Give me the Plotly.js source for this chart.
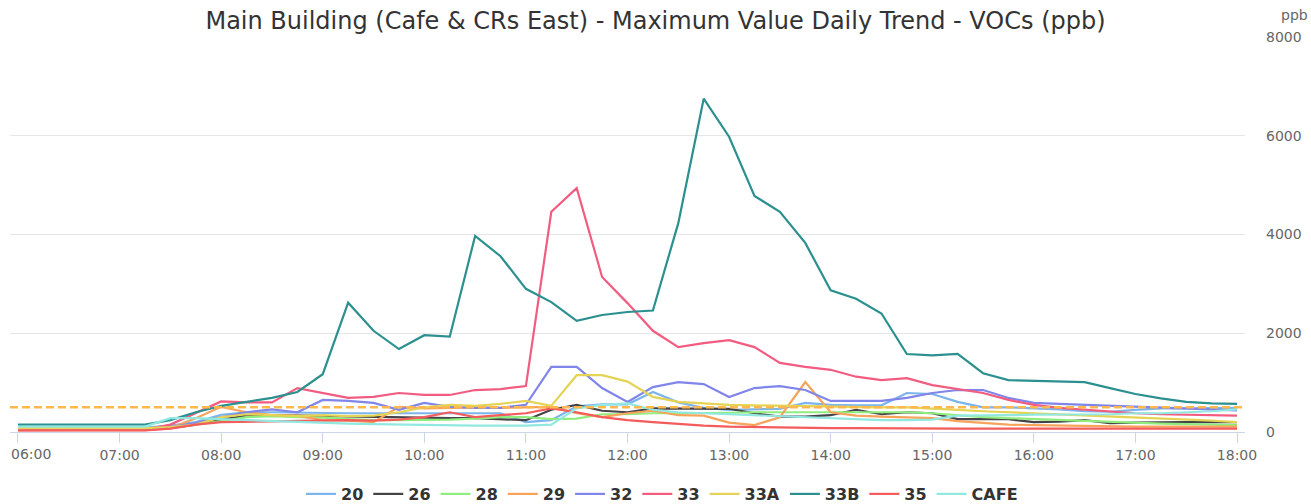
<!DOCTYPE html>
<html>
<head>
<meta charset="utf-8">
<script src="https://cdn.plot.ly/plotly-3.0.1.min.js"></script>
<style>html,body{margin:0;padding:0;background:#fff}#chart{width:1311px;height:504px}</style>
</head>
<body>
<div id="chart"></div>
<script>
const times = ["06:00","06:15","06:30","06:45","07:00","07:15","07:30","07:45","08:00","08:15","08:30","08:45","09:00","09:15","09:30","09:45","10:00","10:15","10:30","10:45","11:00","11:15","11:30","11:45","12:00","12:15","12:30","12:45","13:00","13:15","13:30","13:45","14:00","14:15","14:30","14:45","15:00","15:15","15:30","15:45","16:00","16:15","16:30","16:45","17:00","17:15","17:30","17:45","18:00"];
const hourLabels = ["06:00","07:00","08:00","09:00","10:00","11:00","12:00","13:00","14:00","15:00","16:00","17:00","18:00"];

const s20   = [90,90,90,90,90,90,130,200,350,400,400,390,380,380,380,380,380,380,380,380,200,240,520,560,560,810,600,490,450,460,470,590,550,540,540,790,770,610,500,500,480,460,420,410,450,480,480,490,490];
const s26   = [50,50,50,50,50,50,80,150,250,330,340,330,330,320,310,300,290,280,280,260,240,450,550,430,400,480,480,480,470,380,310,310,340,450,360,400,380,260,260,260,200,210,240,180,190,200,200,200,200];
const s28   = [60,60,60,60,60,60,90,150,220,300,320,300,290,260,240,240,240,250,270,300,300,260,270,360,360,380,380,380,390,400,400,400,400,400,400,400,380,340,300,280,260,240,220,200,180,170,160,150,140];
const s29   = [40,40,40,40,40,40,80,280,510,400,340,330,240,230,200,510,480,490,500,490,500,510,380,300,380,430,340,330,190,140,300,1010,400,330,310,300,280,220,180,150,140,130,120,120,110,110,110,110,110];
const s32   = [60,60,60,60,60,60,100,180,300,400,460,400,650,630,590,450,590,510,490,490,550,1320,1320,890,610,910,1010,970,710,890,930,850,630,630,630,690,790,850,850,690,590,570,550,530,510,500,480,460,440];
const s33   = [40,40,40,40,40,50,150,380,620,600,600,890,790,690,710,790,750,750,850,870,930,4460,4940,3140,2610,2050,1720,1800,1860,1720,1400,1320,1260,1120,1050,1090,950,870,790,650,550,490,450,410,380,360,350,340,330];
const s33A  = [80,80,80,80,80,80,100,150,300,360,340,320,340,320,330,400,500,550,530,570,630,530,1150,1150,1020,710,610,580,550,540,530,520,510,510,500,500,480,450,420,400,380,360,340,320,300,280,260,230,200];
const s33B  = [150,150,150,145,145,150,240,400,530,610,690,810,1170,2620,2050,1680,1960,1930,3970,3560,2900,2630,2250,2370,2430,2460,4230,6750,5980,4780,4460,3830,2870,2700,2400,1580,1550,1580,1190,1050,1040,1030,1010,890,770,680,610,580,570];
const s35   = [30,30,30,30,30,30,70,150,200,210,220,230,240,240,230,250,300,400,300,340,380,480,400,300,240,200,160,130,110,100,90,85,80,80,75,75,70,70,70,70,70,70,70,70,70,70,70,70,70];
const sCAFE = [110,110,110,110,110,110,280,280,260,240,220,200,180,170,160,150,140,140,130,130,130,150,480,550,580,450,400,380,360,340,320,300,280,260,240,240,250,330,330,340,350,350,360,360,380,380,400,420,460];

const seriesNames = ["20","26","28","29","32","33","33A","33B","35","CAFE"];
const seriesValues = [s20,s26,s28,s29,s32,s33,s33A,s33B,s35,sCAFE];
const seriesColors = ["#7cb5ec","#434348","#90ed7d","#f7a35c","#8085e9","#f15c80","#e4d354","#2b908f","#f45b5b","#91e8e1"];
const threshold = 500;
const yTicks = [0,2000,4000,6000,8000];

const day = "2024-01-01 ";
const xs = times.map(t => day + t + ":00");
const hourVals = hourLabels.map(t => day + t + ":00");
// first label is drawn as an annotation so that it is not clipped at the left edge
const hourText = hourLabels.map((t, i) => i === 0 ? "" : t);

const traces = seriesNames.map((n,i) => ({
  type: "scatter", mode: "lines", name: n, x: xs, y: seriesValues[i],
  line: {color: seriesColors[i], width: 2.2}
}));

const font = "DejaVu Sans, sans-serif";
const layout = {
  width: 1311, height: 504,
  margin: {l: 10, r: 66, t: 37, b: 72, autoexpand: false},
  paper_bgcolor: "#ffffff", plot_bgcolor: "#ffffff",
  title: {text: "Main Building (Cafe &amp; CRs East) - Maximum Value Daily Trend - VOCs (ppb)",
          x: 0.5, xref: "container", y: 1 - 21/504, yref: "container", yanchor: "middle",
          font: {family: font, size: 24, color: "#333333"}},
  xaxis: {type: "date", range: [day + "05:55:17", day + "18:04:43"],
          tickvals: hourVals, ticktext: hourText,
          showgrid: false, zeroline: false, automargin: false,
          showline: true, linecolor: "#ccd6eb", linewidth: 1,
          ticks: "outside", ticklen: 10, tickcolor: "#ccd6eb", tickwidth: 1,
          ticklabelstandoff: 0,
          tickfont: {family: font, size: 14, color: "#666666"}},
  yaxis: {side: "right", range: [0, 8000], tickvals: yTicks, automargin: false,
          showgrid: true, gridcolor: "#e6e6e6", gridwidth: 1, zeroline: false,
          ticks: "", ticklabelstandoff: 20,
          tickfont: {family: font, size: 14, color: "#666666"}},
  shapes: [{type: "line", xref: "paper", x0: 0, x1: 1, yref: "y", y0: threshold, y1: threshold,
            line: {color: "#ffb84d", width: 2.5, dash: "8px,4px"}, layer: "above"}],
  annotations: [
    {text: "ppb", xref: "paper", yref: "paper", x: (1294-10)/1235, y: (432-15)/395,
     xanchor: "center", yanchor: "middle", showarrow: false,
     font: {family: font, size: 14, color: "#666666"}},
    {text: hourLabels[0], xref: "paper", yref: "paper", x: -1/1235, y: (432-454)/395,
     xanchor: "left", yanchor: "middle", showarrow: false,
     font: {family: font, size: 14, color: "#666666"}}
  ],
  legend: {orientation: "h", x: (662-10)/1235, xanchor: "center", y: -(494-432)/395, yanchor: "middle",
           font: {family: font, size: 16, color: "#333333", weight: "bold"}, itemwidth: 30},
  showlegend: true
};

Plotly.newPlot("chart", traces, layout, {displayModeBar: false, staticPlot: true});
</script>
</body>
</html>
